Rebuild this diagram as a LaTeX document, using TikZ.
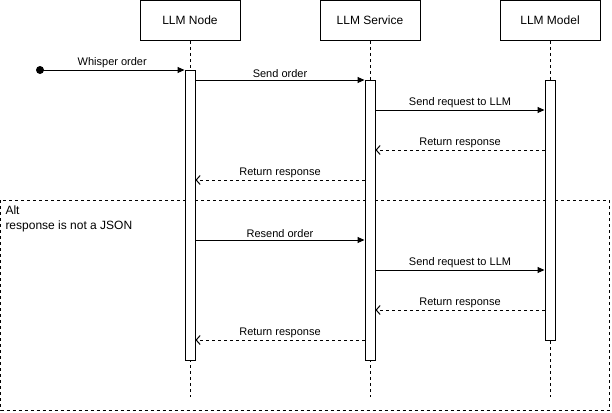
\documentclass[tikz,border=0pt]{standalone}
\usepackage{fontspec}
\setmainfont{Liberation Sans}
\usetikzlibrary{arrows.meta}
\usetikzlibrary{positioning}

\tikzset{
  actor/.style={draw, minimum width=100pt, minimum height=40pt, inner sep=0pt, font=\fontsize{12}{14}\selectfont},
  bar/.style={draw, fill=white, minimum width=10pt, inner sep=0pt, anchor=north},
  lifeline/.style={dash pattern=on 3pt off 3pt},
  call/.style={-{Triangle[length=7pt,width=6pt]}},
  reply/.style={lifeline, -{Straight Barb[length=4pt,width=9pt]}},
  msg/.style={above, inner sep=2pt, font=\fontsize{11}{13}\selectfont}
}

\begin{document}
\begin{tikzpicture}[line cap=butt, line join=miter, x=1pt, y=-1pt, line width=1pt]
  \useasboundingbox (0,0) rectangle (612,412);
  % alt frame
  \draw[lifeline] (0.5,200) rectangle (609,410);
  \node[anchor=north west, align=left, inner sep=0pt, font=\fontsize{12}{15}\selectfont] (altlabel) at (5,205) {Alt\\response is not a JSON};
  % participants
  \node[actor] (llmnode) at (190,20.5) {LLM Node};
  \node[actor] (llmservice) at (370,20.5) {LLM Service};
  \node[actor] (llmmodel) at (550,20.5) {LLM Model};
  \coordinate (nodeend) at (190,397);
  \coordinate (serviceend) at (370,397);
  \coordinate (modelend) at (550,397);
  % lifelines and activations
  \draw[lifeline] (llmnode.south) -- (nodeend);
  \draw[lifeline] (llmservice.south) -- (serviceend);
  \draw[lifeline] (llmmodel.south) -- (modelend);
  \node[bar, minimum height=290pt] (nodebar) at (190,70) {};
  \node[bar, minimum height=280pt] (servicebar) at (370,80) {};
  \node[bar, minimum height=260pt] (modelbar) at (550,80) {};
  % found message
  \fill (40,70) circle (4pt) coordinate (start);
  \draw[call] (start) -- node[msg] {Whisper order} (nodebar.west |- start);
  % the two rounds
  \foreach \dy/\txt in {0/Send order, 160/Resend order}{
    \coordinate (order) at (0,80+\dy);
    \coordinate (request) at (0,110+\dy);
    \coordinate (answer) at (0,150+\dy);
    \coordinate (back) at (0,180+\dy);
    \draw[call] (nodebar.east |- order) -- node[msg] {\txt} (servicebar.west |- order);
    \draw[call] (servicebar.east |- request) -- node[msg] {Send request to LLM} (modelbar.west |- request);
    \draw[reply] (modelbar.west |- answer) -- node[msg] {Return response} (servicebar.east |- answer);
    \draw[reply] (servicebar.west |- back) -- node[msg] {Return response} (nodebar.east |- back);
  }
\end{tikzpicture}
\end{document}
